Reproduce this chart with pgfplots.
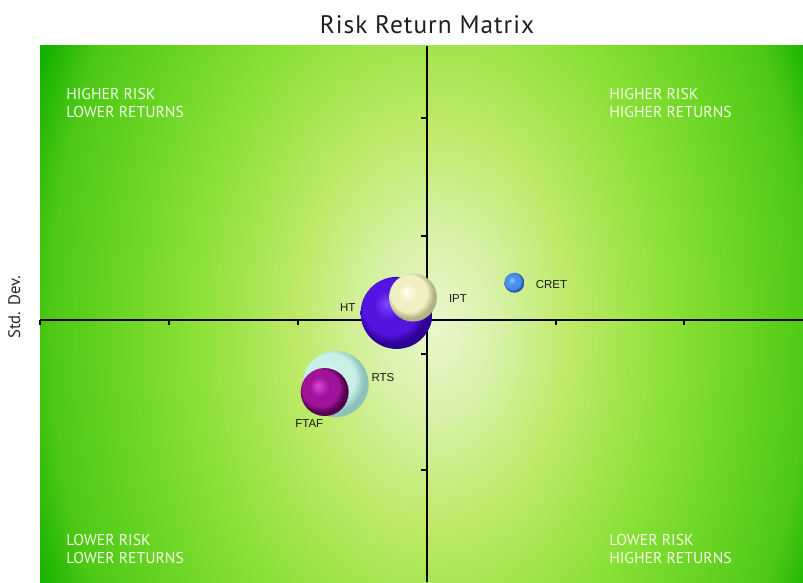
\documentclass[border=0pt]{standalone}
\usepackage{pgfplots}
\pgfplotsset{compat=1.18}
\usepackage{fontspec}
\setmainfont{PT Sans}
\newfontfamily\lblfont{Liberation Sans}
\newfontfamily\titlefont[LetterSpace=4]{PT Sans}

% background glow colours
\definecolor{g0}{HTML}{E8F8CC}
\definecolor{g1}{HTML}{D8F2A8}
\definecolor{g2}{HTML}{BEEA68}
\definecolor{g3}{HTML}{88E035}
\definecolor{g4}{HTML}{4CC814}
\definecolor{g5}{HTML}{14B000}
\definecolor{quadtext}{HTML}{F4FAE8}

\pgfdeclareradialshading{bgglow}{\pgfpoint{1bp}{0bp}}{%
  color(0bp)=(g0); color(4bp)=(g1); color(9bp)=(g2);
  color(16bp)=(g3); color(25bp)=(g4); color(28bp)=(g5); color(50bp)=(g5)}

% lit-sphere shadings for the bubbles: highlight, body, rim
\newcommand\sphereshading[4]{%
  \definecolor{#1hl}{HTML}{#2}\definecolor{#1bd}{HTML}{#3}\definecolor{#1rm}{HTML}{#4}%
  \pgfdeclareradialshading{#1shade}{\pgfpoint{-7bp}{7bp}}{%
    color(0bp)=(#1hl); color(10bp)=(#1bd); color(19bp)=(#1bd); color(25bp)=(#1rm); color(50bp)=(#1rm)}%
  \pgfdeclareplotmark{#1ball}{%
    \pgfpathcircle{\pgfpointorigin}{\pgfplotmarksize}%
    \pgfshadepath{#1shade}{0}\pgfusepath{}}}
\sphereshading{ht}{7E48FF}{5414E0}{2C0092}
\sphereshading{ipt}{FFFFF2}{F0F0C4}{B2B282}
\sphereshading{cret}{92CAFF}{4A90EA}{2058B0}
\sphereshading{rts}{F2FFFB}{C8F0E6}{8EC2BA}
\sphereshading{ftaf}{DC46DC}{A0149A}{52004E}

\tikzset{lbl/.style={inner sep=0pt, font=\lblfont\fontsize{8.6}{10}\selectfont, text=black!90}}

\begin{document}
\begin{tikzpicture}
\path[use as bounding box] (-30pt,0pt) rectangle (572.25pt,436.5pt);
% glowing backdrop of the plot area
\begin{scope}
  \clip (0pt,0pt) rectangle (572.25pt,402pt);
  \shade[shading=bgglow] (0pt,-226pt) rectangle (572.25pt,612pt);
\end{scope}
\begin{axis}[
  at={(0pt,0pt)}, anchor=south west,
  scale only axis, width=572.25pt, height=402pt,
  xmin=-3, xmax=2.92, ymin=-2.23, ymax=2.332,
  axis lines=middle,
  axis line style={-, line width=1.5pt, black},
  xtick={-3,-2,-1,1,2},
  ytick={1.719,0.715,-0.289,-1.277},
  xticklabels={}, yticklabels={},
  tick align=outside,
  major tick length=4pt,
  every tick/.style={black, line width=1.5pt},
  clip=false,
]
% bubbles: position = (return, risk), mark size = bubble radius
\addplot[only marks, mark=htball, mark size=27pt]
  coordinates {(-0.233,0.060)}
  node[lbl, anchor=east, xshift=-30.75pt, yshift=3.75pt] {HT};
\addplot[only marks, mark=iptball, mark size=18pt]
  coordinates {(-0.106,0.191)}
  node[lbl, anchor=west, xshift=26.8pt, yshift=-1.1pt] {IPT};
\addplot[only marks, mark=rtsball, mark size=24.75pt]
  coordinates {(-0.706,-0.545)}
  node[lbl, anchor=west, xshift=26.8pt, yshift=4.5pt] {RTS};
\addplot[only marks, mark=ftafball, mark size=18pt]
  coordinates {(-0.791,-0.613)}
  node[lbl, xshift=-11.6pt, yshift=-23.5pt] {FTAF};
\addplot[only marks, mark=cretball, mark size=7.5pt]
  coordinates {(0.680,0.317)}
  node[lbl, anchor=west, xshift=16pt, yshift=-1pt] {CRET};
\end{axis}
% title and axis label
\node[anchor=base, font=\titlefont\fontsize{19}{22}\selectfont, text=black!88] at (290.25pt,411.5pt) {Risk Return Matrix};
\node[rotate=90, anchor=base, font=\fontsize{12.5}{14}\selectfont, text=black!85] at (-15pt,206pt) {Std. Dev.};
% quadrant captions
\begin{scope}[every node/.style={anchor=base west, inner sep=0pt, text=quadtext, font=\fontsize{11.8}{14}\selectfont}]
  \node at (19.5pt,362pt) {HIGHER RISK};
  \node at (19.5pt,348pt) {LOWER RETURNS};
  \node at (426.75pt,362pt) {HIGHER RISK};
  \node at (426.75pt,348pt) {HIGHER RETURNS};
  \node at (19.5pt,27.5pt) {LOWER RISK};
  \node at (19.5pt,13.7pt) {LOWER RETURNS};
  \node at (426.75pt,27.5pt) {LOWER RISK};
  \node at (426.75pt,13.7pt) {HIGHER RETURNS};
\end{scope}
\end{tikzpicture}
\end{document}
